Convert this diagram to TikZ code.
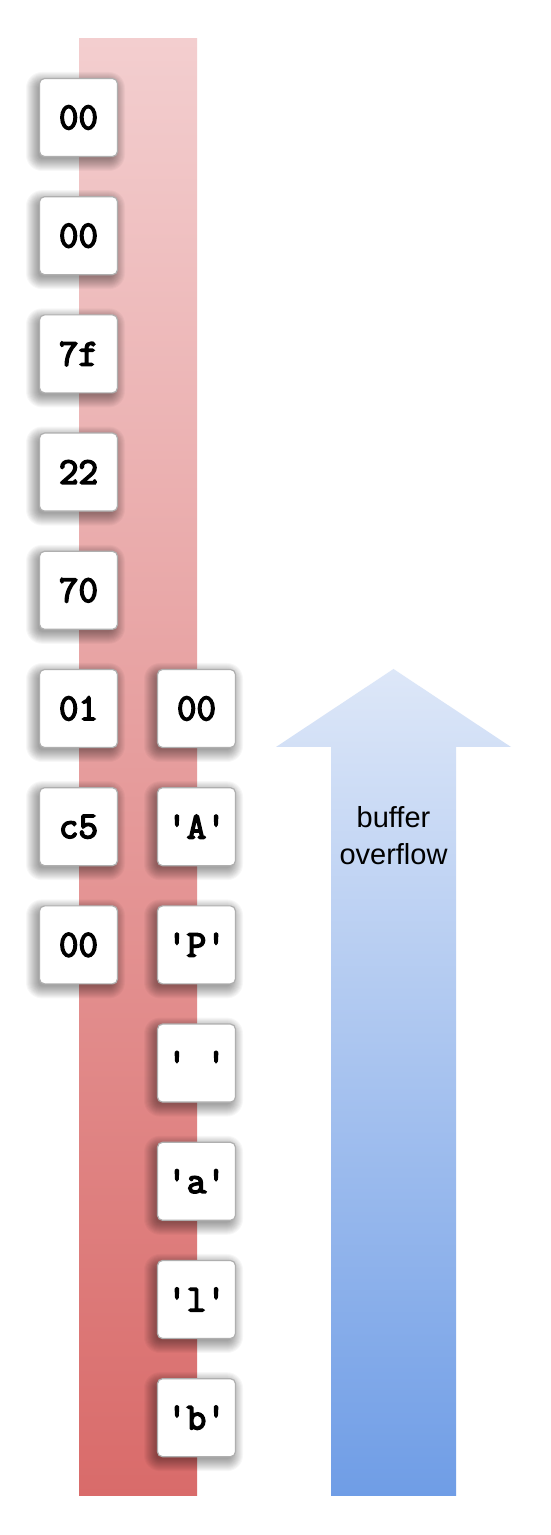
\documentclass[tikz,border=0pt]{standalone}
\usepackage{fontspec}
\setmainfont{Liberation Sans}
\newfontfamily\bytefont{Latin Modern Mono}[Ligatures=ResetAll, FakeBold=4]
\definecolor{redtop}{RGB}{243,206,207}
\definecolor{redbot}{RGB}{217,107,106}
\definecolor{bluetop}{RGB}{221,231,248}
\definecolor{bluebot}{RGB}{111,157,230}
\definecolor{boxline}{RGB}{175,175,175}
\newcommand\mysoftshadow[2]{%
  \foreach \r in {-2,...,10}{%
    \fill[black, opacity=0.033, rounded corners={(6+\r)*1pt}]
      ({#1-39.5-\r-3},{#2-39.5-\r-4}) rectangle ({#1+39.5+\r-3},{#2+39.5+\r-4});
  }%
}
\tikzset{
  bytebox/.style={draw=boxline, line width=1.2pt, fill=white, rounded corners=5pt,
    minimum width=78pt, minimum height=78pt, inner sep=0pt,
    font=\fontsize{38}{38}\selectfont\bytefont},
  lbl/.style={font=\fontsize{29}{37}\selectfont, align=center, text=black}
}
\begin{document}
\begin{tikzpicture}[x=1pt,y=1pt]
\useasboundingbox (0,0) rectangle (551,1535);
\fill[white] (0,0) rectangle (551,1535);
% red stack bar
\shade[top color=redtop, bottom color=redbot] (79,39) rectangle (197,1496);
% blue arrow
\shade[top color=bluetop, bottom color=bluebot]
  (331,39) -- (456,39) -- (456,788) -- (511,788) -- (393.5,866) -- (276,788) -- (331,788) -- cycle;
\node[lbl] (lab) at (393.5,699) {buffer\\overflow};
% shadows
\foreach \yy in {1417.5,1299.3,1181.1,1062.9,944.7,826.5,708.3,590.1}{\mysoftshadow{78.5}{\yy}}
\foreach \yy in {826.5,708.3,590.1,471.9,353.7,235.5,117.3}{\mysoftshadow{196.5}{\yy}}
% left column
\node[bytebox] (l1) at (78.5,1417.5) {00};
\node[bytebox] (l2) at (78.5,1299.3) {00};
\node[bytebox] (l3) at (78.5,1181.1) {7f};
\node[bytebox] (l4) at (78.5,1062.9) {22};
\node[bytebox] (l5) at (78.5,944.7) {70};
\node[bytebox] (l6) at (78.5,826.5) {01};
\node[bytebox] (l7) at (78.5,708.3) {c5};
\node[bytebox] (l8) at (78.5,590.1) {00};
% right column
\node[bytebox] (r1) at (196.5,826.5) {00};
\node[bytebox] (r2) at (196.5,708.3) {'A'};
\node[bytebox] (r3) at (196.5,590.1) {'P'};
\node[bytebox] (r4) at (196.5,471.9) {' '};
\node[bytebox] (r5) at (196.5,353.7) {'a'};
\node[bytebox] (r6) at (196.5,235.5) {'l'};
\node[bytebox] (r7) at (196.5,117.3) {'b'};
\end{tikzpicture}
\end{document}
